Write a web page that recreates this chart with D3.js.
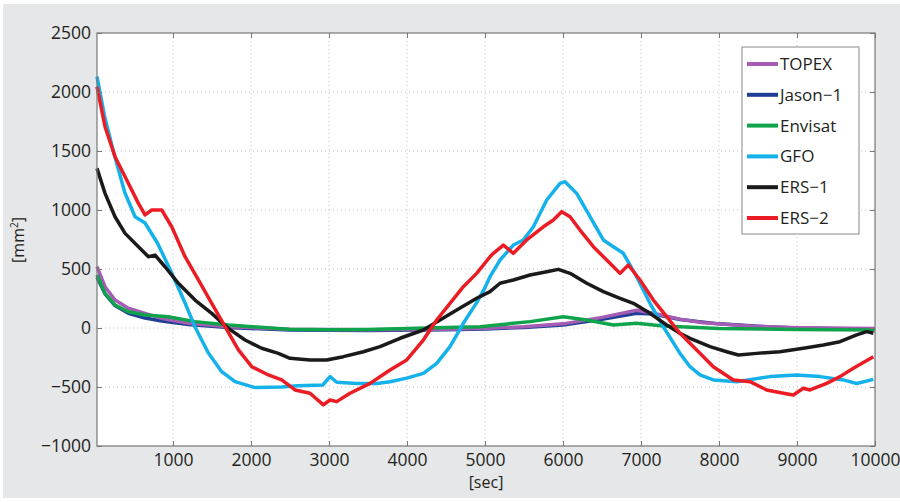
<!DOCTYPE html>
<html>
    <head>
        <title>Orbit error variance</title>
        <script src="https://d3js.org/d3.v7.min.js"></script>
        <style>
            body { margin: 0; background: white; }
            text { font-family: 'Open Sans', 'Noto Sans', sans-serif; fill: #231f20; }
            .tick-label { font-size: 17.5px; }
            .legend-text { font-size: 17px; }
        </style>
    </head>
    <body>
        <svg id='canvas' width=900 height=502></svg>
        <script>
            // series names, colours and the [sec, mm^2] points
            const names = ['TOPEX', 'Jason\u22121', 'Envisat', 'GFO', 'ERS\u22121', 'ERS\u22122']
            const colors = ['#a55db3', '#1f3f96', '#0fa34c', '#15b1eb', '#1a1a1a', '#ec1c24']

            const topex = [[25,520],[128,350],[256,237],[427,167],[641,124],[855,82],[1197,40],[1709,11],[2500,-10],
                [3500,-15],[4500,-10],[5000,-3],[5500,10],[6000,35],[6500,90],[6944,150],[7158,125],[7500,75],
                [7800,45],[8440,15],[9000,3],[10000,-5]]
            const jason1 = [[25,430],[128,290],[256,190],[427,125],[641,85],[855,60],[1197,30],[1709,5],[2500,-18],
                [3500,-22],[4500,-15],[5000,-8],[5500,5],[6000,25],[6500,75],[6944,125],[7158,118],[7500,72],
                [8000,35],[8500,15],[9000,0],[10000,-10]]
            const envisat = [[25,449],[128,294],[256,195],[427,138],[641,110],[940,96],[1282,54],[1709,25],[2479,-11],
                [3000,-14],[3500,-12],[4000,-5],[4500,5],[4936,11],[5577,54],[6004,95],[6304,68],[6645,25],
                [6944,40],[7286,17],[8000,-5],[9000,-12],[10000,-18]]
            const gfo = [[25,2130],[120,1800],[231,1508],[380,1150],[513,943],[641,890],[800,720],[983,466],[1154,212],
                [1282,8],[1453,-212],[1624,-370],[1795,-455],[2051,-505],[2393,-500],[2600,-490],[2920,-483],
                [3013,-412],[3100,-460],[3355,-470],[3611,-470],[3782,-455],[3996,-425],[4209,-384],[4380,-300],
                [4551,-158],[4722,40],[4893,215],[4990,330],[5064,435],[5192,576],[5363,703],[5491,746],[5620,858],
                [5791,1085],[5962,1226],[6026,1240],[6175,1141],[6346,943],[6517,746],[6645,689],[6773,633],
                [6944,435],[7115,209],[7286,11],[7500,-215],[7628,-328],[7756,-398],[7927,-440],[8226,-455],
                [8654,-412],[8996,-398],[9295,-412],[9594,-440],[9765,-470],[9979,-435]]
            const ers1 = [[25,1353],[128,1141],[256,943],[385,802],[556,689],[684,604],[769,618],[897,519],[1068,379],
                [1282,237],[1496,124],[1709,-3],[1923,-102],[2137,-172],[2350,-215],[2500,-257],[2756,-271],
                [2970,-271],[3184,-243],[3440,-201],[3654,-158],[3910,-87],[4209,-17],[4423,68],[4637,153],
                [4893,252],[5064,308],[5192,379],[5363,407],[5577,449],[5791,477],[5940,497],[6090,463],[6304,379],
                [6517,308],[6731,252],[6902,209],[7115,124],[7329,25],[7500,-45],[7628,-87],[7885,-158],[8098,-201],
                [8248,-229],[8483,-215],[8782,-201],[9081,-172],[9338,-144],[9551,-116],[9765,-59],[9893,-31],[9979,-45]]
            const ers2 = [[25,2045],[128,1706],[256,1452],[385,1282],[556,1056],[641,958],[727,1000],[855,1000],
                [983,858],[1154,604],[1325,407],[1496,209],[1667,11],[1838,-186],[2009,-328],[2222,-398],[2393,-440],
                [2564,-525],[2756,-553],[2927,-652],[3013,-610],[3098,-624],[3269,-553],[3526,-469],[3782,-356],
                [3996,-271],[4209,-102],[4380,68],[4551,209],[4722,350],[4893,463],[5064,604],[5107,633],[5235,703],
                [5363,633],[5534,746],[5748,858],[5876,915],[5983,986],[6090,943],[6218,830],[6389,689],[6560,576],
                [6731,463],[6838,534],[6987,407],[7158,237],[7329,96],[7500,-45],[7714,-186],[7927,-328],[8184,-440],
                [8397,-455],[8611,-525],[8825,-553],[8953,-568],[9081,-511],[9167,-525],[9380,-469],[9551,-412],
                [9722,-342],[9979,-243]]
            const series = [topex, jason1, envisat, gfo, ers1, ers2]
            // draw order: jason under topex, then the rest as listed
            const drawOrder = [1, 0, 2, 3, 4, 5]

            const xTicks = [1000, 2000, 3000, 4000, 5000, 6000, 7000, 8000, 9000, 10000]
            const yTicks = [-1000, -500, 0, 500, 1000, 1500, 2000, 2500]

            const svg = d3.select('#canvas')
            const plot = { left: 97, top: 33, right: 875, bottom: 446 }

            // grey panel behind everything
            svg.append('rect')
                .attr('x', 3).attr('y', 4).attr('width', 897).attr('height', 494)
                .attr('fill', '#e6e7e8')

            const xScale = d3.scaleLinear().domain([25, 10000]).range([plot.left, plot.right])
            const yScale = d3.scaleLinear().domain([-1000, 2500]).range([plot.bottom, plot.top])

            svg.append('rect')
                .attr('x', plot.left).attr('y', plot.top)
                .attr('width', plot.right - plot.left).attr('height', plot.bottom - plot.top)
                .attr('fill', 'white')

            // dotted grid
            const grid = svg.append('g').attr('stroke', '#c4c4c4').attr('stroke-dasharray', '1,3').attr('stroke-width', 1)
            grid.selectAll('.gx').data(xTicks.slice(0, -1)).enter().append('line')
                .attr('x1', d => xScale(d)).attr('x2', d => xScale(d))
                .attr('y1', plot.top).attr('y2', plot.bottom)
            grid.selectAll('.gy').data(yTicks.slice(1, -1)).enter().append('line')
                .attr('y1', d => yScale(d)).attr('y2', d => yScale(d))
                .attr('x1', plot.left).attr('x2', plot.right)

            // lines
            const line = d3.line().x(d => xScale(d[0])).y(d => yScale(d[1]))
            const lines = svg.append('g')
            drawOrder.forEach(i => {
                lines.append('path')
                    .datum(series[i])
                    .attr('d', line)
                    .attr('fill', 'none')
                    .attr('stroke', colors[i])
                    .attr('stroke-width', 3.5)
                    .attr('stroke-linejoin', 'round')
            })

            // axes: ticks pointing inward on all four sides, like matlab
            const axisStyle = sel => {
                sel.select('.domain').remove()
                sel.selectAll('.tick line').attr('stroke', '#777')
                sel.selectAll('.tick text').classed('tick-label', true).attr('fill', '#231f20')
                    .style('font-family', "'Open Sans', 'Noto Sans', sans-serif")
            }
            const minus = d => d < 0 ? '\u2212' + Math.abs(d) : String(d)
            svg.append('g')
                .attr('transform', `translate(0, ${plot.bottom})`)
                .call(d3.axisBottom(xScale).tickValues(xTicks).tickFormat(minus)
                    .tickSizeInner(-5).tickSizeOuter(0).tickPadding(8))
                .call(axisStyle)
            svg.append('g')
                .attr('transform', `translate(${plot.left}, 0)`)
                .call(d3.axisLeft(yScale).tickValues(yTicks).tickFormat(minus)
                    .tickSizeInner(-5).tickSizeOuter(0).tickPadding(6))
                .call(axisStyle)
            svg.append('g')
                .attr('transform', `translate(0, ${plot.top})`)
                .call(d3.axisTop(xScale).tickValues(xTicks).tickSizeInner(-5).tickSizeOuter(0).tickFormat(''))
                .call(axisStyle)
            svg.append('g')
                .attr('transform', `translate(${plot.right}, 0)`)
                .call(d3.axisRight(yScale).tickValues(yTicks).tickSizeInner(-5).tickSizeOuter(0).tickFormat(''))
                .call(axisStyle)

            svg.append('rect')
                .attr('x', plot.left).attr('y', plot.top)
                .attr('width', plot.right - plot.left).attr('height', plot.bottom - plot.top)
                .attr('fill', 'none').attr('stroke', '#777').attr('stroke-width', 1.2)

            // axis titles
            svg.append('text').text('[sec]')
                .attr('x', 486).attr('y', 488)
                .attr('text-anchor', 'middle').style('font-size', '16px')
            const yTitle = svg.append('text')
                .attr('transform', `translate(24, 240) rotate(-90)`)
                .attr('text-anchor', 'middle').style('font-size', '16px')
            yTitle.append('tspan').text('[mm')
            yTitle.append('tspan').text('2').attr('dy', -6).style('font-size', '10px')
            yTitle.append('tspan').text(']').attr('dy', 6)

            // legend
            const legend = svg.append('g')
            legend.append('rect')
                .attr('x', 742).attr('y', 47).attr('width', 117).attr('height', 187)
                .attr('fill', 'white').attr('stroke', '#8a8a8a').attr('stroke-width', 1)
            names.forEach((n, i) => {
                const y = 64 + i * 30.8
                legend.append('line')
                    .attr('x1', 747).attr('x2', 778).attr('y1', y).attr('y2', y)
                    .attr('stroke', colors[i]).attr('stroke-width', 4)
                legend.append('text').text(n)
                    .attr('x', 780).attr('y', y + 6)
                    .classed('legend-text', true)
            })
        </script>
    </body>
</html>
